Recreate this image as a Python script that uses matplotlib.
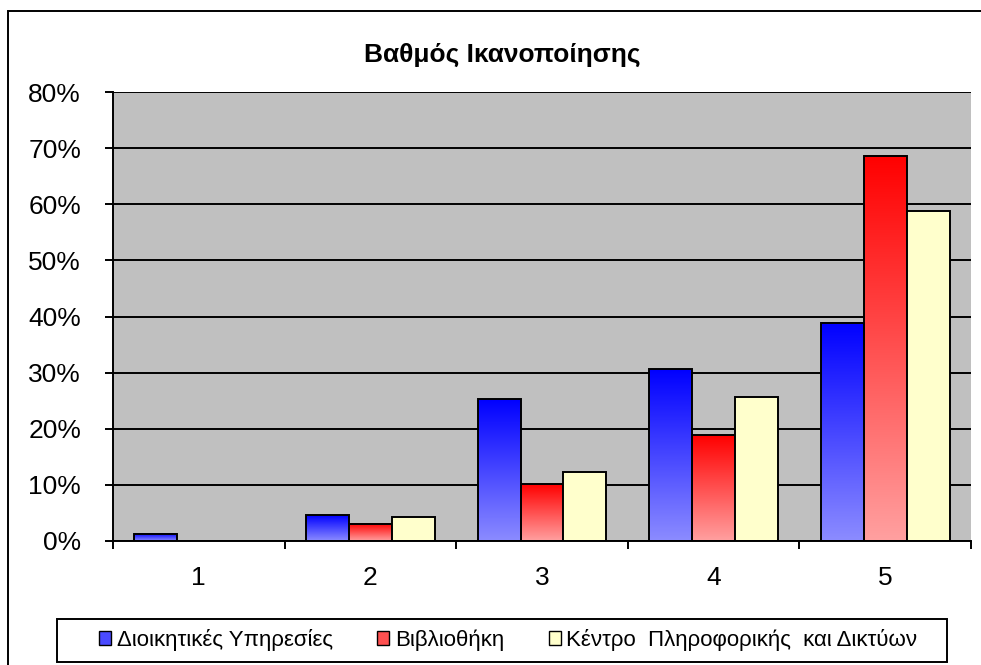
import numpy as np
import matplotlib
matplotlib.use("Agg")
import matplotlib.pyplot as plt
from matplotlib.colors import LinearSegmentedColormap
from matplotlib.patches import Patch, Rectangle

plt.rcParams['font.family'] = ['Liberation Sans', 'DejaVu Sans']

# -----------------------------
# Data (percent)
# -----------------------------
categories = ['1', '2', '3', '4', '5']
series_names = ['Διοικητικές Υπηρεσίες', 'Βιβλιοθήκη',
                'Κέντρο  Πληροφορικής  και Δικτύων']
admin = [1.3, 4.6, 25.3, 30.6, 38.9]
library = [0.0, 3.1, 10.1, 18.8, 68.6]
computing = [0.0, 4.3, 12.3, 25.6, 58.8]

# -----------------------------
# Figure / axes layout
# -----------------------------
W, H = 981, 665
fig = plt.figure(figsize=(W / 100, H / 100), dpi=100)
ax = fig.add_axes([113 / W, 1 - 541 / H, (971 - 113) / W, (541 - 92) / H])
ax.set_facecolor('#c0c0c0')

x = np.arange(1, len(categories) + 1)
bw = 0.25


def gradient_bars(xs, vals, top_col, bottom_col):
    cmap = LinearSegmentedColormap.from_list('g', [bottom_col, top_col])
    grad = np.linspace(0, 1, 256).reshape(-1, 1)
    bars = ax.bar(xs, vals, bw, facecolor='none', edgecolor='black',
                  linewidth=1.4, zorder=3)
    for b in bars:
        if b.get_height() <= 0:
            continue
        x0 = b.get_x()
        ax.imshow(grad, extent=[x0, x0 + b.get_width(), 0, b.get_height()],
                  origin='lower', aspect='auto', cmap=cmap, zorder=2,
                  interpolation='bilinear')
    return bars


gradient_bars(x - bw, admin, '#0000ff', '#8c8cff')
gradient_bars(x, library, '#ff0000', '#ffa0a0')
ax.bar(x + bw, computing, bw, color='#ffffcc', edgecolor='black',
       linewidth=1.4, zorder=3)

ax.set_xlim(0.5, 5.5)
ax.set_ylim(0, 80)

# gridlines & spines
ax.set_axisbelow(True)
ax.yaxis.grid(True, color='black', linewidth=1.4, zorder=1)
for s in ['top', 'right']:
    ax.spines[s].set_visible(False)
for s in ['left', 'bottom']:
    ax.spines[s].set_linewidth(1.4)
    ax.spines[s].set_zorder(4)

# y ticks
ax.set_yticks(np.arange(0, 81, 10))
ax.set_yticklabels([f'{v}%' for v in range(0, 81, 10)], fontsize=19)
ax.tick_params(axis='y', direction='out', length=6, width=1.4, pad=17)

# x ticks: labels at centres, marks at boundaries
ax.set_xticks(x)
ax.set_xticklabels(categories, fontsize=19)
ax.tick_params(axis='x', which='major', length=0, pad=18)
ax.set_xticks(np.arange(0.5, 5.6, 1), minor=True)
ax.tick_params(axis='x', which='minor', direction='out', length=6, width=1.4)

# title
fig.text(502 / W, 1 - 55 / H, 'Βαθμός Ικανοποίησης', ha='center',
         va='center', fontsize=19, fontweight='bold')

# legend
handles = [Patch(facecolor='#4a4aff', edgecolor='black', lw=1),
           Patch(facecolor='#ff5050', edgecolor='black', lw=1),
           Patch(facecolor='#ffffcc', edgecolor='black', lw=1)]
fig.patches.append(Rectangle((57 / W, 1 - 662 / H), (947 - 57) / W,
                             (662 - 619) / H, transform=fig.transFigure,
                             facecolor='white', edgecolor='black', lw=1.4))
fig.legend(handles, series_names, loc='center left',
           bbox_to_anchor=(99 / W, 1 - 640 / H), ncol=3, frameon=False,
           fontsize=16, borderpad=0, borderaxespad=0, handlelength=0.55,
           handleheight=0.55, handletextpad=0.25, columnspacing=2.0)

# outer chart border
fig.patches.append(Rectangle((8 / W, -0.1), 1.2, 1.1 - 11 / H,
                             transform=fig.transFigure, facecolor='none',
                             edgecolor='black', lw=1.4))

fig.savefig('out.png', dpi=100)
